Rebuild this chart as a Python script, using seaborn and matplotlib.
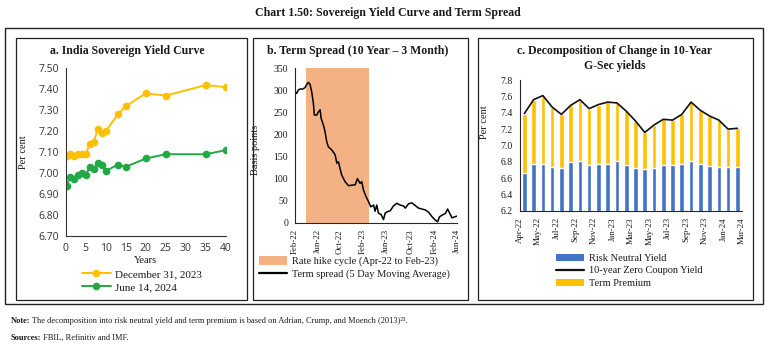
import numpy as np
import pandas as pd
import matplotlib
matplotlib.use("Agg")
import matplotlib.pyplot as plt
import seaborn as sns
from matplotlib.patches import Rectangle, Patch
from matplotlib.lines import Line2D
from matplotlib.ticker import FormatStrFormatter

# ---------------- data ----------------
# Panel a: India sovereign yield curve
tenor_years = [0.25, 1, 2, 3, 4, 5, 6, 7, 8, 9, 10, 13, 15, 20, 25, 35, 40]
yield_dec2023 = [7.08, 7.09, 7.08, 7.09, 7.09, 7.09, 7.14, 7.15, 7.21, 7.19, 7.20,
                 7.28, 7.32, 7.38, 7.37, 7.42, 7.41]
yield_jun2024 = [6.94, 6.98, 6.97, 6.99, 7.00, 6.99, 7.03, 7.02, 7.05, 7.04, 7.01,
                 7.04, 7.03, 7.07, 7.09, 7.09, 7.11]
series_a = ["December 31, 2023", "June 14, 2024"]
a_yticks = [6.70, 6.80, 6.90, 7.00, 7.10, 7.20, 7.30, 7.40, 7.50]
a_xticks = [0, 5, 10, 15, 20, 25, 30, 35, 40]

# Panel b: term spread (10Y - 3M), 5-day moving average, basis points
spread_dates = ["2022-02-01", "2022-02-10", "2022-02-19", "2022-02-28", "2022-03-14",
                "2022-03-26", "2022-04-04", "2022-04-13", "2022-04-22", "2022-05-01",
                "2022-05-10", "2022-05-15", "2022-05-28", "2022-06-07", "2022-06-15",
                "2022-06-20", "2022-07-02", "2022-07-11", "2022-07-20", "2022-07-29",
                "2022-08-16", "2022-09-03", "2022-09-12", "2022-09-21", "2022-09-29",
                "2022-10-08", "2022-10-26", "2022-11-13", "2022-12-01", "2022-12-19",
                "2022-12-31", "2023-01-14", "2023-01-23", "2023-02-01", "2023-02-15",
                "2023-02-28", "2023-03-12", "2023-03-27", "2023-04-04", "2023-04-13",
                "2023-04-22", "2023-05-07", "2023-05-19", "2023-05-28", "2023-06-09",
                "2023-06-24", "2023-07-11", "2023-07-29", "2023-08-16", "2023-09-03",
                "2023-09-12", "2023-09-30", "2023-10-17", "2023-11-04", "2023-11-22",
                "2023-12-10", "2023-12-28", "2024-01-14", "2024-02-01", "2024-02-19",
                "2024-03-03", "2024-03-12", "2024-03-26", "2024-04-13", "2024-04-25",
                "2024-05-09", "2024-05-18", "2024-05-31", "2024-06-14"]
spread_bp = [298, 293, 301, 303, 303, 306, 313, 318, 314, 297,
             271, 244, 244, 252, 256, 237, 222, 207, 184, 172,
             165, 154, 135, 138, 123, 108, 93, 84, 85, 86,
             100, 89, 93, 74, 59, 48, 36, 40, 26, 40,
             22, 18, 7, 22, 25, 27, 38, 44, 40, 38,
             33, 43, 45, 39, 33, 31, 29, 24, 14, 6,
             2, 13, 17, 21, 31, 19, 11, 13, 15]
hike_start, hike_end = "2022-04-01", "2023-03-01"
b_tick_dates = ["2022-02-01", "2022-05-31", "2022-09-28", "2023-01-29",
                "2023-05-30", "2023-10-12", "2024-02-15", "2024-06-14"]
b_tick_labels = ["Feb-22", "Jun-22", "Oct-22", "Feb-23", "Jun-23", "Oct-23", "Feb-24", "Jun-24"]
b_yticks = [0, 50, 100, 150, 200, 250, 300, 350]

# Panel c: decomposition of 10-year G-Sec yields
months_c = ["Apr-22", "May-22", "Jun-22", "Jul-22", "Aug-22", "Sep-22", "Oct-22", "Nov-22",
            "Dec-22", "Jan-23", "Feb-23", "Mar-23", "Apr-23", "May-23", "Jun-23", "Jul-23",
            "Aug-23", "Sep-23", "Oct-23", "Nov-23", "Dec-23", "Jan-24", "Feb-24", "Mar-24"]
risk_neutral = [6.66, 6.77, 6.77, 6.74, 6.73, 6.80, 6.81, 6.76, 6.77, 6.77, 6.81, 6.76,
                6.73, 6.71, 6.73, 6.76, 6.76, 6.77, 6.81, 6.77, 6.75, 6.74, 6.74, 6.74]
zero_coupon_10y = [7.39, 7.56, 7.61, 7.47, 7.38, 7.49, 7.56, 7.45, 7.50, 7.53, 7.52, 7.42,
                   7.30, 7.16, 7.25, 7.32, 7.31, 7.38, 7.53, 7.43, 7.36, 7.31, 7.20, 7.21]
c_tick_labels = ["Apr-22", "May-22", "Jul-22", "Sep-22", "Nov-22", "Jan-23", "Mar-23",
                 "May-23", "Jul-23", "Sep-23", "Nov-23", "Jan-24", "Mar-24"]
c_yticks = [6.2, 6.4, 6.6, 6.8, 7.0, 7.2, 7.4, 7.6, 7.8]

# ---------------- style ----------------
sns.set_style("white")
plt.rcParams["font.family"] = ["Liberation Serif", "DejaVu Serif"]
plt.rcParams["axes.linewidth"] = 0.8
TXT = "#1a1a1a"
ORANGE = "#FFC000"
GREEN = "#22A845"
BLUE = "#4472C4"
SHADE = "#F4B183"

W, H = 772, 350
fig = plt.figure(figsize=(W / 100, H / 100), dpi=100)


def fx(px):
    return px / W


def fy(py):
    return 1 - py / H


def box(x0, y0, x1, y1, lw=0.9):
    fig.add_artist(Rectangle((fx(x0), fy(y1)), fx(x1) - fx(x0), fy(y0) - fy(y1),
                             transform=fig.transFigure, fill=False, lw=lw, ec="#222222"))


def add_axes(l, t, r, b):
    return fig.add_axes([fx(l), fy(b), fx(r) - fx(l), fy(t) - fy(b)])


# frames
box(5, 28, 763, 304, lw=1.0)
box(16, 37.7, 246.7, 300)
box(253.3, 37.7, 468, 300)
box(477.7, 37.7, 753, 300)

# titles
fig.text(fx(388), fy(13), "Chart 1.50: Sovereign Yield Curve and Term Spread",
         ha="center", va="center", fontsize=8.6, fontweight="bold", color=TXT)
fig.text(fx(127), fy(51), "a. India Sovereign Yield Curve", ha="center", va="center",
         fontsize=8.5, fontweight="bold", color=TXT)
fig.text(fx(358), fy(51), "b. Term Spread (10 Year \u2013 3 Month)", ha="center", va="center",
         fontsize=8.5, fontweight="bold", color=TXT)
fig.text(fx(615), fy(58.5), "c. Decomposition of Change in 10-Year\nG-Sec yields",
         ha="center", va="center", fontsize=8.5, fontweight="bold", color=TXT,
         linespacing=1.25)

# ---------------- panel a ----------------
axa = add_axes(65.7, 68.3, 226, 236)
df_a = pd.DataFrame({
    "Years": tenor_years * 2,
    "Yield": yield_dec2023 + yield_jun2024,
    "Series": [series_a[0]] * len(tenor_years) + [series_a[1]] * len(tenor_years),
})
sns.lineplot(data=df_a, x="Years", y="Yield", hue="Series",
             palette={series_a[0]: ORANGE, series_a[1]: GREEN},
             marker="o", markersize=5.5, markeredgewidth=0, linewidth=1.4,
             ax=axa, legend=False)
axa.set_xlim(0, 40)
axa.set_ylim(6.70, 7.50)
axa.set_xticks(a_xticks)
axa.set_yticks(a_yticks)
axa.yaxis.set_major_formatter(FormatStrFormatter("%.2f"))
axa.tick_params(axis="both", direction="out", length=3, width=0.8, labelsize=7.5,
                colors=TXT, pad=2)
for lab in axa.get_xticklabels() + axa.get_yticklabels():
    lab.set_family(["Open Sans", "DejaVu Sans"])
    lab.set_color("#333333")
axa.set_xlabel("Years", fontsize=7.5, color=TXT)
axa.set_ylabel("Per cent", fontsize=7.5, color=TXT)
axa.xaxis.set_label_coords(0.5, -0.122)
axa.yaxis.set_label_coords(-0.235, 0.5)
sns.despine(ax=axa)
axa.spines["left"].set_color("#333333")
axa.spines["bottom"].set_color("#333333")
handles_a = [Line2D([], [], color=ORANGE, marker="o", markersize=5.5, lw=1.4, markeredgewidth=0),
             Line2D([], [], color=GREEN, marker="o", markersize=5.5, lw=1.4, markeredgewidth=0)]
fig.legend(handles_a, series_a, loc="upper left", bbox_to_anchor=(fx(82), fy(269.5)),
           frameon=False, fontsize=8, handlelength=2.6, handletextpad=0.4,
           labelspacing=0.3, borderaxespad=0, borderpad=0, labelcolor=TXT)

# ---------------- panel b ----------------
axb = add_axes(295, 68.3, 457, 222.7)
df_b = pd.DataFrame({"Date": pd.to_datetime(spread_dates), "Spread": spread_bp})
axb.axvspan(pd.Timestamp(hike_start), pd.Timestamp(hike_end), color=SHADE, lw=0, zorder=0)
sns.lineplot(data=df_b, x="Date", y="Spread", color="black", linewidth=1.1, ax=axb)
axb.set_xlim(pd.Timestamp(spread_dates[0]), pd.Timestamp(spread_dates[-1]))
axb.set_ylim(0, 350)
axb.set_yticks(b_yticks)
axb.set_xticks(pd.to_datetime(b_tick_dates))
axb.set_xticklabels(b_tick_labels, rotation=90)
axb.tick_params(axis="both", direction="out", length=3, width=0.8, labelsize=7,
                colors=TXT, pad=2)
axb.tick_params(axis="x", labelsize=6.4, pad=1.5)
axb.set_xlabel("")
axb.set_ylabel("Basis points", fontsize=7.5, color=TXT)
axb.yaxis.set_label_coords(-0.215, 0.47)
sns.despine(ax=axb)
handles_b = [Patch(facecolor=SHADE, edgecolor="none"),
             Line2D([], [], color="black", lw=1.6)]
labels_b = ["Rate hike cycle (Apr-22 to Feb-23)", "Term spread (5 Day Moving Average)"]
fig.legend(handles_b, labels_b, loc="upper left", bbox_to_anchor=(fx(259), fy(256)),
           frameon=False, fontsize=7.5, handlelength=2.7, handleheight=0.9,
           handletextpad=0.45, labelspacing=0.28, borderaxespad=0, borderpad=0,
           labelcolor=TXT)

# ---------------- panel c ----------------
axc = add_axes(519.7, 80, 742, 211)
xpos = np.arange(len(months_c))
sns.barplot(x=xpos, y=zero_coupon_10y, color=ORANGE, saturation=1, width=0.5,
            native_scale=True, ax=axc, zorder=2)
sns.barplot(x=xpos, y=risk_neutral, color=BLUE, saturation=1, width=0.5,
            native_scale=True, ax=axc, zorder=3)
sns.lineplot(x=xpos, y=zero_coupon_10y, color="#111111", linewidth=1.2, ax=axc, zorder=4)
axc.set_xlim(-0.5, len(months_c) - 0.5)
axc.set_ylim(6.2, 7.8)
axc.set_yticks(c_yticks)
axc.yaxis.set_major_formatter(FormatStrFormatter("%.1f"))
axc.set_xticks(np.linspace(-0.5, len(months_c) - 0.5, len(c_tick_labels)))
axc.set_xticklabels(c_tick_labels, rotation=90)
axc.tick_params(axis="both", direction="out", length=3, width=0.8, labelsize=7,
                colors=TXT, pad=2)
axc.tick_params(axis="x", labelsize=6.4, pad=1.5)
axc.set_xlabel("")
axc.set_ylabel("Per cent", fontsize=7.5, color=TXT)
axc.yaxis.set_label_coords(-0.14, 0.68)
sns.despine(ax=axc)
handles_c = [Patch(facecolor=BLUE, edgecolor="none"),
             Line2D([], [], color="#111111", lw=1.6),
             Patch(facecolor=ORANGE, edgecolor="none")]
labels_c = ["Risk Neutral Yield", "10-year Zero Coupon Yield", "Term Premium"]
fig.legend(handles_c, labels_c, loc="upper left", bbox_to_anchor=(fx(556), fy(253.5)),
           frameon=False, fontsize=7.5, handlelength=2.7, handleheight=0.7,
           handletextpad=0.45, labelspacing=0.32, borderaxespad=0, borderpad=0,
           labelcolor=TXT)

# ---------------- notes ----------------
t1 = fig.text(fx(11), fy(321), "Note:", ha="left", va="center", fontsize=6.0,
              fontweight="bold", color=TXT)
plt.annotate(" The decomposition into risk neutral yield and term premium is based on "
             "Adrian, Crump, and Moench (2013)\u00b2\u00b3.",
             xy=(1, 0), xycoords=t1, ha="left", va="bottom", fontsize=6.0, color=TXT,
             annotation_clip=False)
t2 = fig.text(fx(11), fy(338), "Sources:", ha="left", va="center", fontsize=6.0,
              fontweight="bold", color=TXT)
plt.annotate(" FBIL, Refinitiv and IMF.", xy=(1, 0), xycoords=t2, ha="left", va="bottom",
             fontsize=6.0, color=TXT, annotation_clip=False)

fig.savefig("out.png", dpi=100)
